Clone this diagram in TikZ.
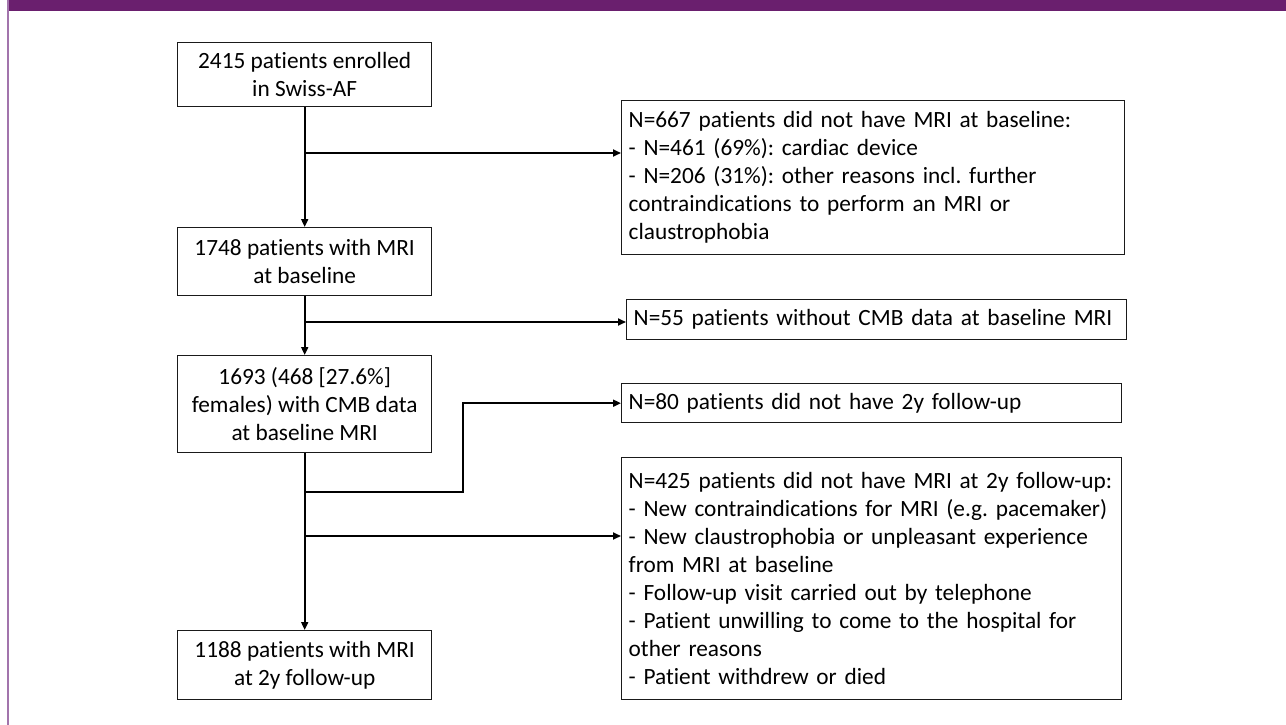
\documentclass[tikz,border=0pt]{standalone}
\usepackage{fontspec}
\setmainfont[Ligatures=NoCommon]{Carlito}
\usetikzlibrary{arrows.meta}
\definecolor{barpurple}{HTML}{6A1F6E}
\definecolor{sidepurple}{HTML}{A274AC}
\definecolor{ink}{HTML}{1A1A1A}
\frenchspacing

\begin{document}
\begin{tikzpicture}[x=1pt,y=-1pt,
  every node/.style={font=\fontsize{23.3}{28}\selectfont, text=black},
  leftbox/.style={draw=ink, line width=1.4pt, align=center, inner sep=0pt, minimum width=254pt, anchor=north west},
  rightbox/.style={draw=ink, line width=1.4pt, align=left, inner xsep=7pt, inner ysep=0pt, anchor=north west},
  arr/.style={draw=black, -{Triangle[length=8pt,width=7pt]}, line width=1.8pt}]

\useasboundingbox (0,0) rectangle (1286,725);
\fill[white] (0,0) rectangle (1286,725);

%frame
\fill[barpurple] (7,0) rectangle (1286,11);
\fill[sidepurple] (7,0) rectangle (9,725);

%left column
\node[leftbox, minimum height=64pt] (enrolled) at (177,42) {2415 patients enrolled\\in Swiss-AF};
\node[leftbox, minimum height=68pt] (mribase) at (177,227) {1748 patients with MRI\\at baseline};
\node[leftbox, minimum height=97pt] (cmbdata) at (177,355) {1693 (468 [27.6\%]\\females) with CMB data\\at baseline MRI};
\node[leftbox, minimum height=69pt] (mrifu) at (177,630) {1188 patients with MRI\\at 2y follow-up};

%right column
\node[rightbox, text width=489pt, minimum height=154pt] (nomri) at (621,100) {N=667 patients did not have MRI at baseline:\\- N=461 (69\%): cardiac device\\- N=206 (31\%): other reasons incl. further\\contraindications to perform an MRI or\\claustrophobia};
\node[rightbox, text width=486pt, minimum height=40pt] (nocmb) at (626,299) {N=55 patients without CMB data at baseline MRI};
\node[rightbox, text width=486pt, minimum height=39pt] (nofu) at (621,383) {N=80 patients did not have 2y follow-up};
\node[rightbox, text width=486pt, minimum height=242pt] (nomrifu) at (621,457) {N=425 patients did not have MRI at 2y follow-up:\\- New contraindications for MRI (e.g. pacemaker)\\- New claustrophobia or unpleasant experience\\from MRI at baseline\\- Follow-up visit carried out by telephone\\- Patient unwilling to come to the hospital for\\other reasons\\- Patient withdrew or died};

%branch points
\coordinate (b1) at (304,153);
\coordinate (b2) at (304,322);
\coordinate (b3) at (304,492);
\coordinate (b4) at (304,536);

%arrows
\draw[arr] (enrolled.south) -- (mribase.north);
\draw[arr] (mribase.south) -- (cmbdata.north);
\draw[arr] (cmbdata.south) -- (mrifu.north);
\draw[arr] (b1) -- (b1 -| nomri.west);
\draw[arr] (b2) -- (b2 -| nocmb.west);
\draw[arr] (b3) -- ++(159,0) |- (nofu.west);
\draw[arr] (b4) -- (b4 -| nomrifu.west);

\end{tikzpicture}
\end{document}
